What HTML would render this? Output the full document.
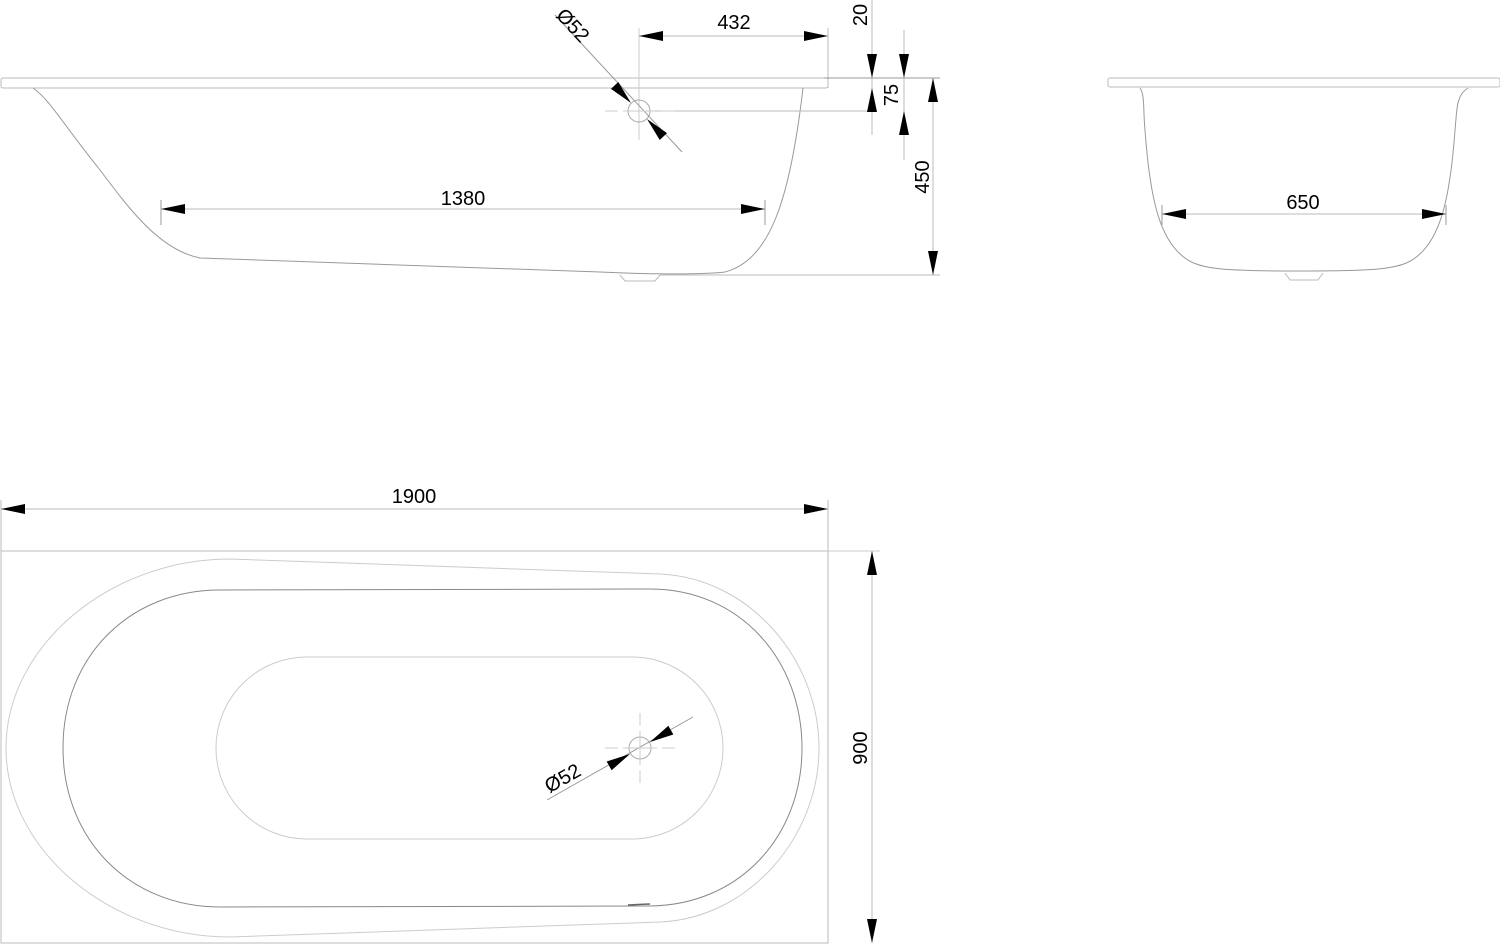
<!DOCTYPE html>
<html><head><meta charset="utf-8"><style>
html,body{margin:0;padding:0;background:#fff;width:1500px;height:944px;overflow:hidden}
svg{display:block}
text{font-family:"Liberation Sans",sans-serif;font-size:20px;fill:#000}
</style></head><body>
<svg width="1500" height="944" viewBox="0 0 1500 944" xmlns="http://www.w3.org/2000/svg">
<defs>
<path id="ar" d="M0,0 L-24,-5 L-24,5 Z" fill="#000"/>
</defs>
<g fill="none" stroke="#aaa" stroke-width="1">
<!-- side view -->
<rect x="1" y="78" width="827" height="10" rx="2" stroke="#bbb"/>
<path d="M33,88 C50,100 60,120 100,170 C130,210 160,250 200,258 L600,272 C640,274 700,275 725,272 C770,260 790,200 803,88" stroke="#999"/>
<path d="M620,275 L625,281 L655,281 L660,275" stroke="#bbb"/>
<!-- extension lines -->
<line x1="639" y1="28" x2="639" y2="140" stroke="#ccc"/>
<line x1="828" y1="28" x2="828" y2="88" stroke="#bbb"/>
<line x1="824" y1="78" x2="940" y2="78" stroke="#999"/>
<line x1="650" y1="111" x2="875" y2="111" stroke="#bbb"/>
<line x1="660" y1="275" x2="940" y2="275" stroke="#bbb"/>
<line x1="161" y1="200" x2="161" y2="225" stroke="#999"/>
<line x1="765" y1="200" x2="765" y2="225" stroke="#999"/>
<!-- dims -->
<line x1="639" y1="36" x2="828" y2="36" stroke="#bbb"/>
<line x1="161" y1="209" x2="765" y2="209" stroke="#bbb"/>
<line x1="872" y1="0" x2="872" y2="135" stroke="#bbb"/>
<line x1="904" y1="30" x2="904" y2="160" stroke="#bbb"/>
<line x1="933" y1="78" x2="933" y2="275" stroke="#bbb"/>
<!-- overflow -->
<circle cx="639" cy="111" r="11" stroke="#aaa"/>
<line x1="555" y1="15" x2="682" y2="152" stroke="#999"/>
<path d="M605,111 H618 M623,111 H655 M660,111 H675" stroke="#ccc"/>
<!-- end view -->
<rect x="1108" y="78" width="392" height="9" rx="2" stroke="#bbb"/>
<path d="M1140,88 C1145,95 1143,110 1145,130 C1150,200 1160,240 1185,258 C1200,270 1230,271 1300,271 C1370,271 1400,270 1415,258 C1440,240 1450,200 1455,130 C1457,110 1456,95 1468,88" stroke="#999"/>
<path d="M1285,273 L1290,280 L1318,280 L1323,273" stroke="#bbb"/>
<line x1="1162" y1="214" x2="1446" y2="214" stroke="#bbb"/>
<line x1="1162" y1="205" x2="1162" y2="225" stroke="#999"/>
<line x1="1446" y1="205" x2="1446" y2="225" stroke="#999"/>
<!-- plan view -->
<rect x="1" y="551" width="827" height="392" stroke="#bbb"/>
<line x1="1" y1="500" x2="1" y2="551" stroke="#bbb"/>
<line x1="828" y1="500" x2="828" y2="551" stroke="#bbb"/>
<line x1="1" y1="509" x2="828" y2="509" stroke="#bbb"/>
<line x1="872" y1="551" x2="872" y2="943" stroke="#bbb"/>
<line x1="828" y1="551" x2="880" y2="551" stroke="#ccc"/>
<path d="M230,559 L660,574 C750,578 819,660 819,748 C819,836 750,918 660,922 L230,937 C110,937 6,850 6,748 C6,646 110,559 230,559 Z" stroke="#ccc"/>
<path d="M220,590 L650,589 C740,589 802,660 802,748 C802,836 740,905 650,906 L220,907 C130,907 63,840 63,748 C63,656 130,590 220,590 Z" stroke="#888"/>
<path d="M628,905 L650,904" stroke="#666" stroke-width="1.5"/>
<rect x="216" y="657" width="507" height="182" rx="91" ry="91" stroke="#ccc"/>
<circle cx="640" cy="748" r="11" stroke="#aaa"/>
<line x1="547" y1="800" x2="693" y2="717" stroke="#999"/>
<path d="M605,748 H618 M623,748 H657 M662,748 H675 M640,713 V726 M640,731 V765 M640,770 V783" stroke="#ccc"/>
</g>
<!-- arrows -->
<use href="#ar" transform="translate(639,36) rotate(180)"/>
<use href="#ar" transform="translate(828,36)"/>
<use href="#ar" transform="translate(161,209) rotate(180)"/>
<use href="#ar" transform="translate(765,209)"/>
<use href="#ar" transform="translate(872,78) rotate(90)"/>
<use href="#ar" transform="translate(872,88) rotate(-90)"/>
<use href="#ar" transform="translate(904,78) rotate(90)"/>
<use href="#ar" transform="translate(904,111) rotate(-90)"/>
<use href="#ar" transform="translate(933,78) rotate(-90)"/>
<use href="#ar" transform="translate(933,275) rotate(90)"/>
<use href="#ar" transform="translate(631,103) rotate(47)"/>
<use href="#ar" transform="translate(647,119) rotate(227)"/>
<use href="#ar" transform="translate(1162,214) rotate(180)"/>
<use href="#ar" transform="translate(1446,214)"/>
<use href="#ar" transform="translate(1,509) rotate(180)"/>
<use href="#ar" transform="translate(828,509)"/>
<use href="#ar" transform="translate(872,551) rotate(-90)"/>
<use href="#ar" transform="translate(872,943) rotate(90)"/>
<use href="#ar" transform="translate(630,754) rotate(-29.6)"/>
<use href="#ar" transform="translate(650,742) rotate(150.4)"/>
<!-- text -->
<text x="734" y="29" text-anchor="middle">432</text>
<text x="463" y="205" text-anchor="middle">1380</text>
<text x="1303" y="209" text-anchor="middle">650</text>
<text x="414" y="503" text-anchor="middle">1900</text>
<text transform="translate(867,15) rotate(-90)" text-anchor="middle">20</text>
<text transform="translate(898,95) rotate(-90)" text-anchor="middle">75</text>
<text transform="translate(929,177) rotate(-90)" text-anchor="middle">450</text>
<text transform="translate(867,748) rotate(-90)" text-anchor="middle">900</text>
<text transform="translate(568,30) rotate(47)" text-anchor="middle">Ø52</text>
<text transform="translate(566,784) rotate(-29.6)" text-anchor="middle">Ø52</text>
</svg>
</body></html>
